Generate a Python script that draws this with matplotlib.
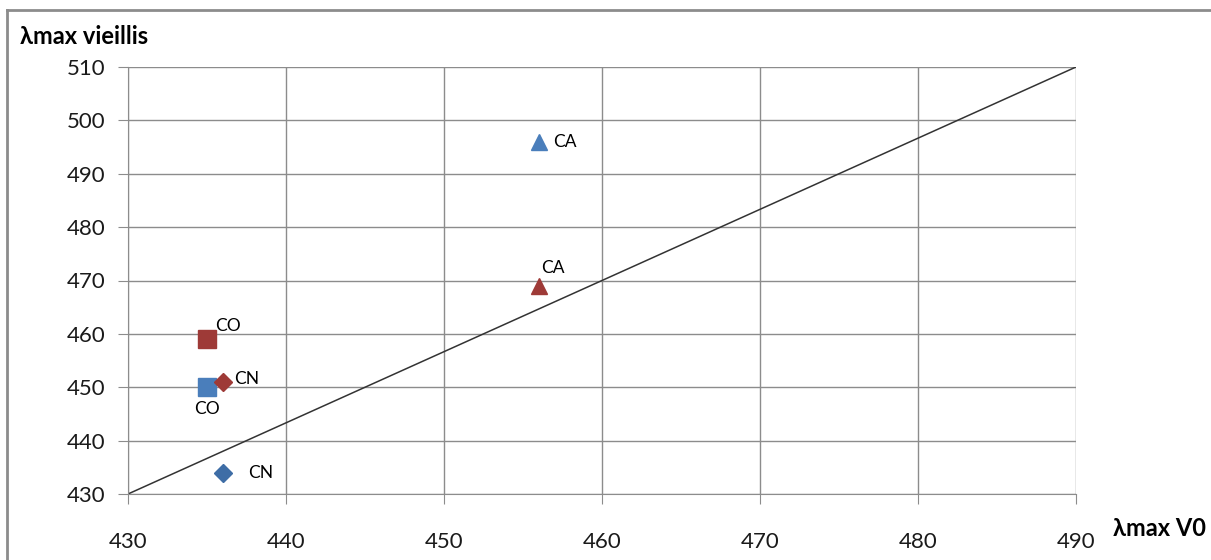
import matplotlib.pyplot as plt
from matplotlib.lines import Line2D

plt.rcParams['font.family'] = ['Lato', 'DejaVu Sans']

# series 1 (blue) and series 2 (red)
x_blue = [456, 435, 436]
y_blue = [496, 450, 434]
lab_blue = ['CA', 'CO', 'CN']

x_red = [456, 435, 436]
y_red = [469, 459, 451]
lab_red = ['CA', 'CO', 'CN']

markers = ['^', 's', 'D']
sizes = [11, 13, 9]

line_x = [430, 490]
line_y = [430, 510]

blue = '#4A7EBB'
blue_d = '#3E6DA6'
red = '#9E3A37'

fig = plt.figure(figsize=(12.11, 5.6), dpi=100)
ax = fig.add_axes([128 / 1211, 1 - 494 / 560, (1076 - 128) / 1211, (494 - 67) / 560])

ax.plot(line_x, line_y, color='#333333', lw=1.1, zorder=2)

for i in range(3):
    c = blue_d if markers[i] == 'D' else blue
    ax.plot(x_blue[i], y_blue[i], marker=markers[i], color=c, ms=sizes[i],
            linestyle='none', zorder=3)
    ax.plot(x_red[i], y_red[i], marker=markers[i], color=red, ms=sizes[i],
            linestyle='none', zorder=3)

# etiquettes
lab_kw = dict(fontsize=12.5, color='black')
ax.annotate(lab_blue[0], (x_blue[0], y_blue[0]), xytext=(10, 0), textcoords='offset points', va='center', **lab_kw)
ax.annotate(lab_blue[1], (x_blue[1], y_blue[1]), xytext=(0, -10), textcoords='offset points', ha='center', va='top', **lab_kw)
ax.annotate(lab_blue[2], (x_blue[2], y_blue[2]), xytext=(18, 0), textcoords='offset points', va='center', **lab_kw)
ax.annotate(lab_red[0], (x_red[0], y_red[0]), xytext=(2, 7), textcoords='offset points', va='bottom', **lab_kw)
ax.annotate(lab_red[1], (x_red[1], y_red[1]), xytext=(6, 4), textcoords='offset points', va='bottom', **lab_kw)
ax.annotate(lab_red[2], (x_red[2], y_red[2]), xytext=(8, 2), textcoords='offset points', va='center', **lab_kw)

ax.set_xlim(430, 490)
ax.set_ylim(430, 510)
ax.set_xticks(range(430, 491, 10))
ax.set_yticks(range(430, 511, 10))
ax.grid(True, color='#8c8c8c', lw=1)
ax.set_axisbelow(True)
ax.tick_params(direction='out', length=7, color='#8c8c8c', labelsize=16, pad=9,
               labelcolor='#1a1a1a')
ax.tick_params(axis='x', pad=20)
for s in ['top', 'right']:
    ax.spines[s].set_visible(False)
for s in ['left', 'bottom']:
    ax.spines[s].set_color('#8c8c8c')

fig.text(20 / 1211, 1 - 36 / 560, 'λmax vieillis', fontsize=17, fontweight='bold', va='center')
fig.text(1113 / 1211, 1 - 529 / 560, 'λmax V0', fontsize=17, fontweight='bold', va='center')

# cadre
fig.add_artist(Line2D([7 / 1211, 7 / 1211], [0, 1 - 10 / 560], color='#8c8c8c', lw=2))
fig.add_artist(Line2D([7 / 1211, 1], [1 - 10 / 560, 1 - 10 / 560], color='#8c8c8c', lw=2))

fig.savefig('out.png', dpi=100)
